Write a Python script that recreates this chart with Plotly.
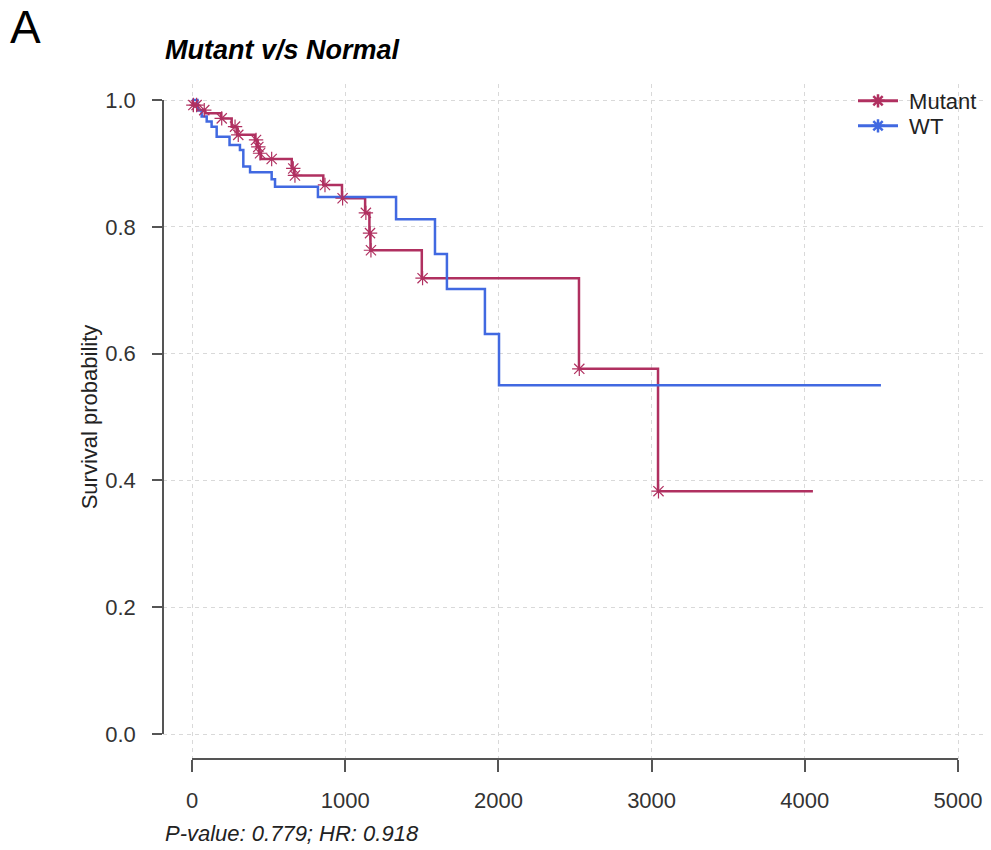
import numpy as np
import plotly.graph_objects as go

# ---- data ----
mutant_time = [0, 5, 40, 85, 190, 259, 295, 411, 425, 440, 450, 651, 668, 857, 979,
               1130, 1158, 1165, 1500, 2526, 3042, 4053]
mutant_surv = [1.0, 0.992, 0.984, 0.979, 0.971, 0.958, 0.945, 0.937, 0.926, 0.916, 0.907,
               0.892, 0.881, 0.866, 0.845, 0.822, 0.790, 0.763, 0.719, 0.576, 0.383, 0.383]
mutant_censor = [9, 30, 80, 194, 281, 302, 418, 433, 444, 520, 661, 672, 868, 983,
                 1135, 1162, 1168, 1505, 2528, 3045]

wt_time = [0, 35, 63, 96, 128, 161, 245, 313, 335, 379, 520, 542, 822, 1332, 1586,
           1664, 1912, 2004, 4497]
wt_surv = [1.0, 0.984, 0.974, 0.966, 0.958, 0.942, 0.929, 0.921, 0.895, 0.886, 0.875,
           0.863, 0.847, 0.812, 0.757, 0.702, 0.631, 0.550, 0.550]

x_ticks = [0, 1000, 2000, 3000, 4000, 5000]
y_ticks = [0.0, 0.2, 0.4, 0.6, 0.8, 1.0]
y_ticklabels = ["0.0", "0.2", "0.4", "0.6", "0.8", "1.0"]

group_names = ["Mutant", "WT"]
colors = ["#B03060", "#4169E1"]


def surv_at(times, survs, t):
    idx = np.searchsorted(np.array(times), np.array(t), side="right") - 1
    return list(np.array(survs)[idx])


FONT = "Liberation Sans, Arial, sans-serif"
W, H = 991, 850
L, R, T, B = 163, 6, 84, 91
pw, ph = W - L - R, H - T - B
# pixel geometry of the data frame inside the plot area
x0_px, x5000_px = 192, 958
y1_px, y0_px = 100, 734
px_per_x = (x5000_px - x0_px) / 5000.0
px_per_y = (y0_px - y1_px) / 1.0
x_range = [(L - x0_px) / px_per_x, (L + pw - x0_px) / px_per_x]
y_range = [(y0_px - (T + ph)) / px_per_y, (y0_px - T) / px_per_y]


def px_to_paper_x(px):
    return (px - L) / pw


def px_to_paper_y(py):
    return (T + ph - py) / ph


fig = go.Figure()

# step curves
fig.add_trace(go.Scatter(x=mutant_time, y=mutant_surv, mode="lines", line_shape="hv",
                         line=dict(color=colors[0], width=2.5), showlegend=False,
                         hoverinfo="skip"))
fig.add_trace(go.Scatter(x=wt_time, y=wt_surv, mode="lines", line_shape="hv",
                         line=dict(color=colors[1], width=2.5), showlegend=False,
                         hoverinfo="skip"))
# censor marks
fig.add_trace(go.Scatter(x=mutant_censor, y=surv_at(mutant_time, mutant_surv, mutant_censor),
                         mode="markers",
                         marker=dict(symbol="asterisk-open", size=12, color=colors[0],
                                     line=dict(color=colors[0], width=1.2)),
                         showlegend=False, hoverinfo="skip", cliponaxis=False))
# legend entries (one legend box per group for exact placement)
legend_ids = ["legend", "legend2"]
for name, col, lid in zip(group_names, colors, legend_ids):
    fig.add_trace(go.Scatter(x=[None], y=[None], mode="lines+markers",
                             name="\u00a0" + name, legend=lid,
                             line=dict(color=col, width=3),
                             marker=dict(symbol="asterisk-open", size=11, color=col,
                                         line=dict(color=col, width=2.5))))
# dummy trace so the R-style axes get drawn
fig.add_trace(go.Scatter(x=[None], y=[None], xaxis="x2", yaxis="y2", showlegend=False,
                         hoverinfo="skip"))

grid = dict(showgrid=True, gridcolor="#D9D9D9", gridwidth=1, griddash="4px,4px",
            zeroline=False, showline=False, ticks="", showticklabels=False)

TICKFONT = dict(size=22, color="#333333")
leg_common = dict(xanchor="left", yanchor="middle", bgcolor="rgba(0,0,0,0)",
                  font=dict(size=22, color="#222222"), itemwidth=40,
                  tracegroupgap=0, borderwidth=0)

fig.update_layout(
    width=W, height=H,
    margin=dict(l=L, r=R, t=T, b=B, autoexpand=False),
    paper_bgcolor="white", plot_bgcolor="rgba(0,0,0,0)",
    font=dict(family=FONT, size=22, color="#333333"),
    xaxis=dict(range=x_range, tickvals=x_ticks, domain=[0, 1], anchor="y", **grid),
    yaxis=dict(range=y_range, tickvals=y_ticks, domain=[0, 1], anchor="x", **grid),
    xaxis2=dict(range=[0, 5000], tickvals=x_ticks, ticktext=[str(v) for v in x_ticks],
                domain=[px_to_paper_x(x0_px), px_to_paper_x(x5000_px)],
                anchor="free", position=0, side="bottom",
                showline=True, linecolor="#555555", linewidth=1.5,
                ticks="outside", ticklen=12, tickwidth=1.5, tickcolor="#555555",
                ticklabelstandoff=10, showgrid=False, zeroline=False,
                tickfont=TICKFONT),
    yaxis2=dict(range=[0, 1], tickvals=y_ticks, ticktext=y_ticklabels,
                domain=[px_to_paper_y(y0_px), px_to_paper_y(y1_px)],
                anchor="free", position=0, side="left",
                showline=True, linecolor="#555555", linewidth=1.5,
                ticks="outside", ticklen=10, tickwidth=1.5, tickcolor="#555555",
                ticklabelstandoff=12, showgrid=False, zeroline=False,
                tickfont=TICKFONT,
                title=dict(text="Survival probability", standoff=1,
                           font=dict(size=22, color="#222222"))),
    legend=dict(x=px_to_paper_x(853), y=px_to_paper_y(101), **leg_common),
    legend2=dict(x=px_to_paper_x(853), y=px_to_paper_y(126), **leg_common),
    title=dict(text="<b><i>Mutant v/s Normal</i></b>", x=(165 / W), xanchor="left",
               xref="container", y=1 - 50 / H, yanchor="middle", yref="container",
               font=dict(family=FONT, size=27, color="#000000")),
    showlegend=True,
)

fig.add_annotation(text="A", xref="paper", yref="paper",
                   x=px_to_paper_x(8), y=px_to_paper_y(27), xanchor="left", yanchor="middle",
                   showarrow=False, font=dict(family=FONT, size=46, color="#000000"))
fig.add_annotation(text="<i>P-value: 0.779; HR: 0.918</i>", xref="paper", yref="paper",
                   x=px_to_paper_x(163), y=px_to_paper_y(833), xanchor="left",
                   yanchor="middle", showarrow=False,
                   font=dict(family=FONT, size=22, color="#222222"))

fig.write_html("out.html")
